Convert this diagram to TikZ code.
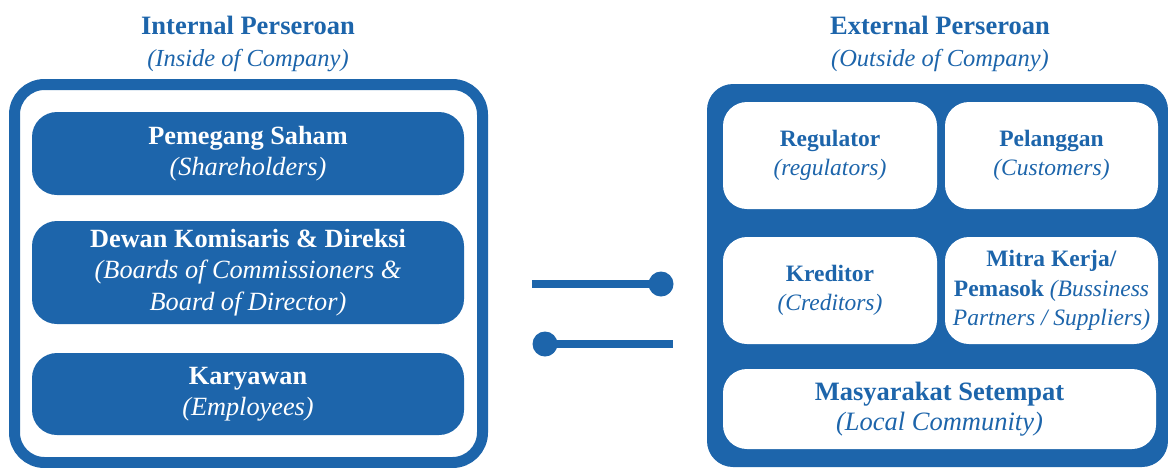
\documentclass[tikz,border=0pt]{standalone}
\usepackage{fontspec}
\setmainfont{Liberation Serif}
\definecolor{cblue}{RGB}{29,101,171}
\begin{document}
\begin{tikzpicture}[x=1pt,y=-1pt,
  title/.style={text=cblue, align=center, font=\fontsize{26.5}{32}\selectfont, inner sep=0pt},
  lbox/.style={fill=cblue, rounded corners=25pt, text=white, align=center, inner sep=0pt,
     minimum width=432pt, font=\fontsize{26.3}{31.5}\selectfont},
  wbox/.style={fill=white, rounded corners=24pt, text=cblue, align=center, inner sep=0pt,
     font=\fontsize{23.5}{29.5}\selectfont},
  link/.style={draw=cblue, line width=8pt},
  dot/.style={fill=cblue}
]
\useasboundingbox (0,0) rectangle (1168,467);

% titles
\node[title] (tin) at (248,43.5) {\textbf{Internal Perseroan}\\\fontsize{24.5}{32}\selectfont\textit{(Inside of Company)}};
\node[title] (tex) at (940,43.5) {\textbf{External Perseroan}\\\fontsize{24.5}{32}\selectfont\textit{(Outside of Company)}};

% left frame
\draw[cblue, line width=11pt, rounded corners=30pt] (14.5,84.5) rectangle (482.5,462.5);
\node[lbox, minimum height=83pt] (sh) at (248,153.5) {\textbf{Pemegang Saham}\\\textit{(Shareholders)}};
\node[lbox, minimum height=103pt] (bd) at (248,272.5) {\textbf{Dewan Komisaris \& Direksi}\\\textit{(Boards of Commissioners \&}\\\textit{Board of Director)}};
\node[lbox, minimum height=82pt] (em) at (248,394) {\textbf{Karyawan}\\\textit{(Employees)}};

% right frame
\fill[cblue, rounded corners=26pt] (707,84) rectangle (1168,467);
\node[wbox, minimum width=214pt, minimum height=107pt] (rg) at (830,155.5) {\textbf{Regulator}\\\textit{(regulators)}};
\node[wbox, minimum width=213pt, minimum height=107pt] (cu) at (1051.5,155.5) {\textbf{Pelanggan}\\\textit{(Customers)}};
\node[wbox, minimum width=214pt, minimum height=107pt] (cr) at (830,290.5) {\textbf{Kreditor}\\\textit{(Creditors)}};
\node[wbox, minimum width=213pt, minimum height=107pt] (mk) at (1051.5,290.5) {\textbf{Mitra Kerja/}\\\textbf{Pemasok} \textit{(Bussiness}\\\textit{Partners / Suppliers)}};
\node[wbox, minimum width=433pt, minimum height=80pt, font=\fontsize{26.5}{30}\selectfont] (lc) at (939.5,409) {\textbf{Masyarakat Setempat}\\\textit{(Local Community)}};

% connectors
\coordinate (a1) at (532,284);
\coordinate (a2) at (661,284);
\coordinate (b1) at (545,344);
\coordinate (b2) at (673,344);
\draw[link] (a1) -- (a2);
\fill[dot] (a2) circle (12.5pt);
\draw[link] (b1) -- (b2);
\fill[dot] (b1) circle (12.5pt);
\end{tikzpicture}
\end{document}
